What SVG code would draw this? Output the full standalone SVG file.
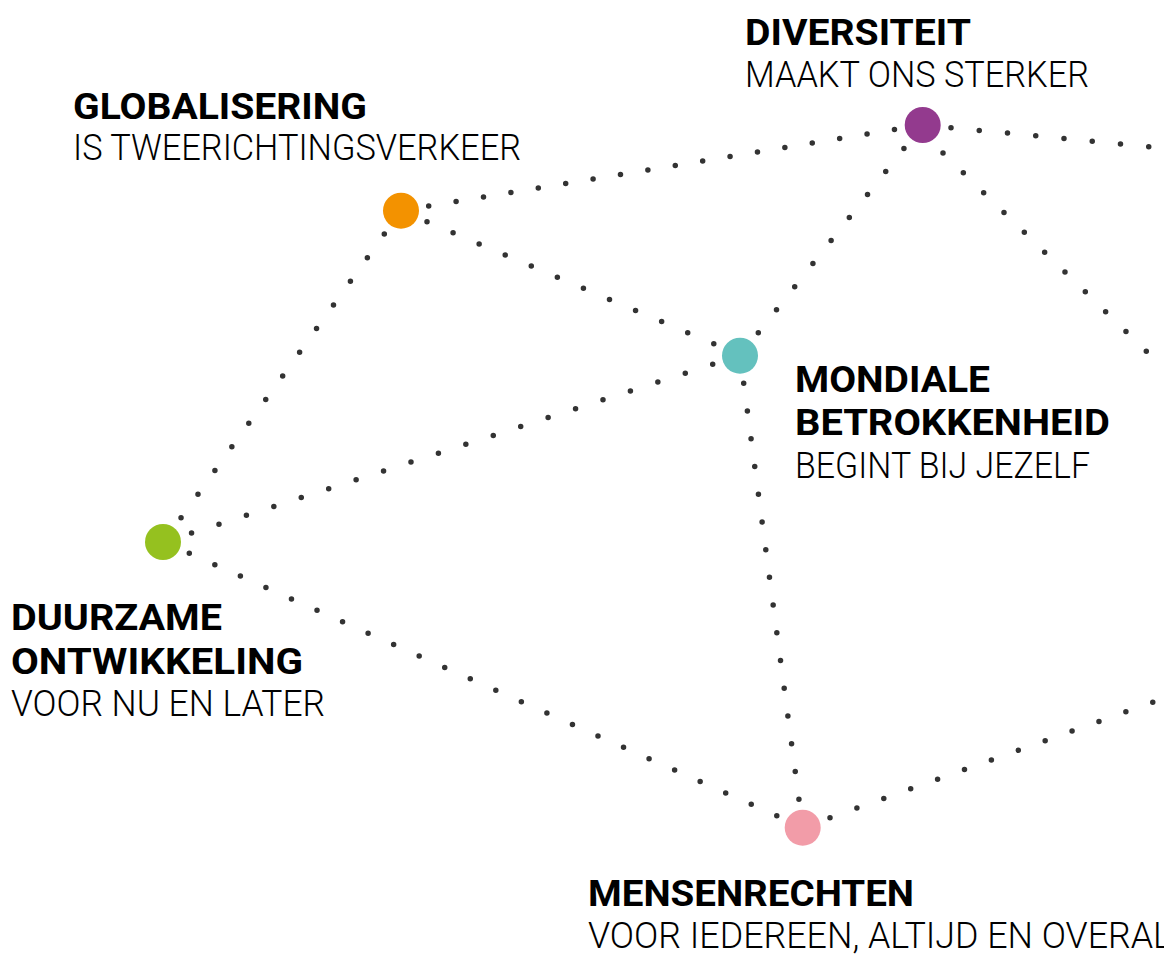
<svg xmlns="http://www.w3.org/2000/svg" width="1164" height="954" viewBox="0 0 1164 954">
<style>
.bg{fill:#ffffff}
.dots{fill:none;stroke:#333333;stroke-width:5.5;stroke-linecap:round;stroke-dasharray:0 1}
.t{font-family:Roboto,"Liberation Sans",sans-serif;font-weight:700;font-size:37px;fill:#000000}
.s{font-family:Roboto,"Liberation Sans",sans-serif;font-weight:300;font-size:37px;fill:#000000}
</style>
<rect class="bg" x="0" y="0" width="1164" height="954"/>
<g id="connectors">
<path class="dots" d="M428.7,206 L895,129.3" pathLength="17.02"/>
<path class="dots" d="M427,221.7 L714.3,344" pathLength="11.02"/>
<path class="dots" d="M384.3,234 L180.7,518.3" pathLength="12.02"/>
<path class="dots" d="M758.3,332.7 L904.3,148" pathLength="8.02"/>
<path class="dots" d="M712.7,364.3 L191,533.3" pathLength="19.02"/>
<path class="dots" d="M743.7,383.3 L799,799.7" pathLength="15.02"/>
<path class="dots" d="M951,127.7 L1149.3,146.7" pathLength="7.02"/>
<path class="dots" d="M943,153 L1146.7,351.7" pathLength="10.02"/>
<path class="dots" d="M189.3,553.3 L777.3,816" pathLength="23.02"/>
<path class="dots" d="M830,817.7 L1153.3,702" pathLength="12.02"/>
</g>
<g id="diversiteit">
<circle cx="922.7" cy="125" r="18" fill="#933A8E"/>
<text class="t" x="745" y="45" textLength="226" lengthAdjust="spacingAndGlyphs">DIVERSITEIT</text>
<text class="s" x="745" y="87" textLength="344" lengthAdjust="spacingAndGlyphs">MAAKT ONS STERKER</text>
</g>
<g id="globalisering">
<circle cx="401" cy="210.7" r="18" fill="#F39200"/>
<text class="t" x="73" y="119" textLength="294" lengthAdjust="spacingAndGlyphs">GLOBALISERING</text>
<text class="s" x="73" y="160" textLength="448" lengthAdjust="spacingAndGlyphs">IS TWEERICHTINGSVERKEER</text>
</g>
<g id="mondiale">
<circle cx="740" cy="355.7" r="18" fill="#64C1BE"/>
<text class="t" x="795" y="392" textLength="195" lengthAdjust="spacingAndGlyphs">MONDIALE</text>
<text class="t" x="795" y="435" textLength="315" lengthAdjust="spacingAndGlyphs">BETROKKENHEID</text>
<text class="s" x="795" y="478" textLength="295" lengthAdjust="spacingAndGlyphs">BEGINT BIJ JEZELF</text>
</g>
<g id="duurzame">
<circle cx="163" cy="542" r="18" fill="#95C11F"/>
<text class="t" x="11" y="630" textLength="211" lengthAdjust="spacingAndGlyphs">DUURZAME</text>
<text class="t" x="11" y="674" textLength="292" lengthAdjust="spacingAndGlyphs">ONTWIKKELING</text>
<text class="s" x="11" y="716" textLength="314" lengthAdjust="spacingAndGlyphs">VOOR NU EN LATER</text>
</g>
<g id="mensenrechten">
<circle cx="802.7" cy="827.7" r="18" fill="#F29CA8"/>
<text class="t" x="588" y="906" textLength="326" lengthAdjust="spacingAndGlyphs">MENSENRECHTEN</text>
<text class="s" x="588" y="948" textLength="584" lengthAdjust="spacingAndGlyphs">VOOR IEDEREEN, ALTIJD EN OVERAL</text>
</g>
</svg>
